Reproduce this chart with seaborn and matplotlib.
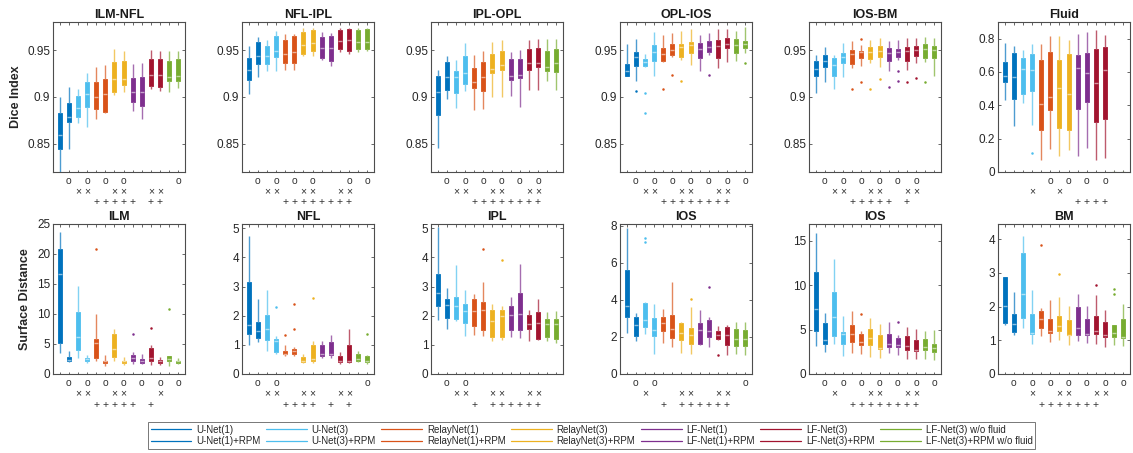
import numpy as np
import pandas as pd
import matplotlib
matplotlib.use("Agg")
import matplotlib.pyplot as plt
import seaborn as sns
from matplotlib.lines import Line2D
from matplotlib.colors import to_rgb

# ---------------- data ----------------
methods = ["U-Net(1)", "U-Net(1)+RPM", "U-Net(3)", "U-Net(3)+RPM",
           "RelayNet(1)", "RelayNet(1)+RPM", "RelayNet(3)", "RelayNet(3)+RPM",
           "LF-Net(1)", "LF-Net(1)+RPM", "LF-Net(3)", "LF-Net(3)+RPM",
           "LF-Net(3) w/o fluid", "LF-Net(3)+RPM w/o fluid"]
base_colors = ["#0072BD", "#0072BD", "#4DBEEE", "#4DBEEE", "#D95319", "#D95319",
               "#EDB120", "#EDB120", "#7E2F8E", "#7E2F8E", "#A2142F", "#A2142F",
               "#77AC30", "#77AC30"]

# each row: [whisker low, q1, median, q3, whisker high]
ilm_nfl = [[0.815, 0.845, 0.859, 0.883, 0.900], [0.845, 0.8735, 0.879, 0.8935, 0.911],
           [0.872, 0.879, 0.8886, 0.901, 0.909], [0.8675, 0.889, 0.9033, 0.9163, 0.926],
           [0.877, 0.8875, 0.900, 0.9163, 0.9325], [0.883, 0.884, 0.903, 0.9188, 0.934],
           [0.902, 0.9058, 0.919, 0.9374, 0.9507], [0.905, 0.9128, 0.919, 0.938, 0.949],
           [0.8847, 0.895, 0.905, 0.920, 0.935], [0.877, 0.890, 0.905, 0.921, 0.936],
           [0.9086, 0.9114, 0.923, 0.941, 0.950], [0.9068, 0.9107, 0.923, 0.9405, 0.9493],
           [0.9054, 0.917, 0.921, 0.9384, 0.949], [0.9096, 0.917, 0.922, 0.9402, 0.9493]]
nfl_ipl = [[0.9037, 0.9184, 0.929, 0.9412, 0.9542], [0.9212, 0.935, 0.9437, 0.9591, 0.964],
           [0.9282, 0.935, 0.9437, 0.9542, 0.9612], [0.9279, 0.943, 0.9493, 0.9647, 0.970],
           [0.929, 0.9367, 0.9458, 0.9605, 0.9668], [0.9286, 0.9367, 0.9482, 0.9654, 0.9675],
           [0.9437, 0.9454, 0.9553, 0.9696, 0.9739], [0.9437, 0.949, 0.9577, 0.9711, 0.9732],
           [0.940, 0.9412, 0.9518, 0.9637, 0.969], [0.933, 0.9384, 0.9518, 0.9647, 0.9682],
           [0.9482, 0.9507, 0.9598, 0.9718, 0.9739], [0.9458, 0.949, 0.9605, 0.9725, 0.9739],
           [0.9482, 0.9507, 0.9591, 0.9718, 0.9732], [0.9493, 0.9507, 0.9591, 0.9728, 0.9739]]
ipl_opl = [[0.8461, 0.8805, 0.9058, 0.922, 0.929], [0.8974, 0.9075, 0.9212, 0.9374, 0.944],
           [0.8879, 0.9044, 0.9212, 0.9279, 0.9395], [0.9061, 0.9139, 0.9254, 0.9437, 0.9577],
           [0.8858, 0.9093, 0.9163, 0.9307, 0.9447], [0.8875, 0.9061, 0.9212, 0.9377, 0.949],
           [0.8998, 0.9261, 0.9296, 0.9458, 0.9588], [0.8998, 0.929, 0.9339, 0.949, 0.9605],
           [0.9009, 0.9177, 0.9226, 0.9402, 0.9482], [0.8893, 0.9198, 0.9237, 0.9409, 0.950],
           [0.9079, 0.929, 0.936, 0.9507, 0.9612], [0.9079, 0.9325, 0.9367, 0.9518, 0.9623],
           [0.9174, 0.9272, 0.9325, 0.9493, 0.9623], [0.9072, 0.9265, 0.936, 0.9514, 0.9623]]
opl_ios = [[0.9226, 0.9226, 0.9282, 0.9353, 0.957], [0.9167, 0.9335, 0.943, 0.9482, 0.9616],
           [0.9325, 0.9335, 0.9377, 0.9402, 0.9454], [0.9219, 0.9384, 0.9482, 0.9553, 0.9693],
           [0.937, 0.9388, 0.9454, 0.9518, 0.9665], [0.9423, 0.9447, 0.950, 0.957, 0.9682],
           [0.9395, 0.943, 0.9535, 0.957, 0.9704], [0.9342, 0.9465, 0.9553, 0.9588, 0.9728],
           [0.9272, 0.9419, 0.951, 0.9581, 0.9665], [0.9447, 0.9482, 0.9535, 0.9598, 0.9682],
           [0.9307, 0.9419, 0.9546, 0.9605, 0.9728], [0.9377, 0.9525, 0.957, 0.963, 0.9728],
           [0.9384, 0.9472, 0.9553, 0.9616, 0.970], [0.9472, 0.9518, 0.957, 0.9598, 0.9746]]
ios_bm = [[0.9044, 0.9219, 0.9296, 0.9388, 0.9447], [0.9156, 0.9325, 0.9388, 0.9447, 0.9528],
          [0.9086, 0.9219, 0.9342, 0.9412, 0.9447], [0.9209, 0.936, 0.943, 0.9472, 0.9577],
          [0.9307, 0.935, 0.9454, 0.950, 0.9598], [0.9332, 0.9419, 0.9482, 0.9493, 0.9553],
          [0.9367, 0.9402, 0.9482, 0.9535, 0.9605], [0.9318, 0.9423, 0.9493, 0.9542, 0.9633],
          [0.9272, 0.9384, 0.9472, 0.9525, 0.9598], [0.9395, 0.9423, 0.9482, 0.9507, 0.9605],
          [0.9289, 0.9388, 0.9493, 0.9535, 0.9633], [0.9367, 0.9437, 0.950, 0.9542, 0.9633],
          [0.9377, 0.9412, 0.9507, 0.9563, 0.964], [0.9219, 0.9412, 0.950, 0.9542, 0.9633]]
fluid = [[0.432, 0.539, 0.575, 0.659, 0.776], [0.273, 0.436, 0.567, 0.716, 0.754],
         [0.412, 0.466, 0.615, 0.685, 0.730], [0.283, 0.486, 0.611, 0.706, 0.770],
         [0.074, 0.249, 0.408, 0.669, 0.766], [0.137, 0.372, 0.452, 0.720, 0.814],
         [0.094, 0.263, 0.501, 0.671, 0.814], [0.133, 0.249, 0.466, 0.706, 0.790],
         [0.098, 0.380, 0.621, 0.700, 0.830], [0.147, 0.422, 0.595, 0.716, 0.840],
         [0.070, 0.302, 0.531, 0.736, 0.854], [0.086, 0.318, 0.611, 0.750, 0.820],
         [0.0, 0.0, 0.0, 0.0, 0.0], [0.0, 0.0, 0.0, 0.0, 0.0]]
ilm = [[3.5, 5.1, 16.6, 20.9, 23.6], [2.0, 2.1, 2.4, 2.8, 3.8],
       [2.75, 4.0, 6.1, 10.4, 14.6], [1.8, 2.25, 2.5, 2.6, 3.2],
       [2.1, 2.6, 5.1, 5.9, 10.0], [1.4, 1.8, 2.1, 2.2, 3.1],
       [2.1, 2.8, 4.1, 6.6, 7.5], [1.5, 1.8, 2.1, 2.2, 2.8],
       [1.65, 2.1, 2.6, 3.2, 3.7], [1.65, 1.9, 2.2, 2.5, 3.3],
       [1.5, 2.1, 2.75, 4.3, 4.9], [1.5, 1.9, 2.2, 2.35, 2.8],
       [1.4, 2.1, 2.5, 3.0, 3.05], [1.65, 1.9, 2.1, 2.25, 2.75]]
nfl = [[0.99, 1.36, 1.67, 3.17, 4.75], [1.10, 1.24, 1.49, 1.79, 2.56],
       [0.78, 1.18, 1.55, 2.01, 2.87], [0.70, 0.76, 1.13, 1.21, 1.32],
       [0.63, 0.67, 0.69, 0.80, 0.99], [0.61, 0.67, 0.80, 0.87, 0.92],
       [0.38, 0.41, 0.46, 0.57, 0.69], [0.38, 0.44, 0.52, 0.99, 1.13],
       [0.55, 0.61, 0.69, 1.01, 1.13], [0.55, 0.64, 0.69, 1.09, 1.33],
       [0.34, 0.41, 0.46, 0.63, 0.75], [0.38, 0.41, 0.46, 0.98, 1.56],
       [0.40, 0.44, 0.52, 0.67, 0.78], [0.34, 0.41, 0.46, 0.63, 0.64]]
ipl = [[1.87, 2.33, 2.79, 3.42, 5.05], [1.55, 1.93, 2.36, 2.58, 2.94],
       [1.81, 1.89, 2.33, 2.66, 3.74], [1.32, 1.74, 2.18, 2.42, 2.88],
       [1.35, 1.64, 2.18, 2.58, 2.75], [1.32, 1.50, 2.21, 2.47, 3.17],
       [1.12, 1.28, 1.83, 2.21, 2.42], [1.18, 1.28, 1.98, 2.21, 2.35],
       [1.26, 1.51, 2.02, 2.33, 2.64], [1.24, 1.50, 2.06, 2.79, 3.76],
       [1.15, 1.55, 1.72, 2.01, 2.19], [1.18, 1.20, 1.75, 2.13, 2.56],
       [1.12, 1.28, 1.70, 1.89, 2.13], [1.07, 1.20, 1.72, 1.90, 2.18]]
ios_a = [[2.22, 3.10, 3.65, 5.60, 7.87], [1.77, 2.06, 2.67, 3.07, 3.30],
         [2.17, 2.56, 2.92, 3.84, 3.90], [1.08, 2.04, 2.40, 3.03, 3.79],
         [1.68, 2.31, 2.76, 3.07, 3.52], [1.44, 1.95, 2.45, 3.18, 4.98],
         [1.14, 1.82, 2.22, 2.73, 2.82], [1.08, 1.62, 2.13, 2.49, 3.61],
         [1.55, 1.62, 2.40, 2.76, 3.43], [1.44, 1.99, 2.31, 2.94, 3.07],
         [1.86, 1.90, 2.13, 2.31, 2.58], [1.05, 1.55, 2.08, 2.54, 2.67],
         [1.08, 1.53, 1.90, 2.44, 2.82], [1.01, 1.50, 1.90, 2.38, 2.82]]
ios_b = [[3.11, 4.88, 7.31, 11.48, 15.86], [2.48, 3.41, 3.86, 5.74, 6.86],
         [3.38, 4.24, 6.41, 9.23, 12.98], [1.99, 3.38, 4.54, 4.73, 6.49],
         [2.36, 3.60, 4.50, 5.55, 7.13], [2.25, 3.23, 3.60, 4.50, 4.80],
         [1.88, 3.23, 4.05, 5.06, 6.30], [1.80, 2.85, 2.93, 4.35, 5.66],
         [2.36, 3.00, 3.41, 4.54, 5.85], [2.10, 3.04, 3.30, 4.05, 4.43],
         [1.69, 2.66, 3.19, 4.31, 5.25], [1.69, 2.63, 2.74, 3.86, 5.10],
         [1.69, 2.74, 3.04, 3.94, 4.88], [1.61, 2.48, 2.93, 3.41, 4.99]]
bm = [[1.45, 1.51, 2.03, 2.89, 2.89], [1.17, 1.25, 1.47, 1.77, 2.43],
      [1.37, 1.65, 2.36, 3.60, 4.10], [0.90, 1.19, 1.22, 1.77, 2.48],
      [1.12, 1.37, 1.62, 1.87, 1.96], [0.95, 1.22, 1.27, 1.62, 2.21],
      [1.02, 1.29, 1.42, 1.72, 2.28], [0.85, 1.15, 1.17, 1.59, 2.01],
      [0.97, 1.15, 1.37, 1.98, 2.38], [0.92, 1.17, 1.19, 1.64, 2.01],
      [0.90, 1.19, 1.27, 1.72, 2.33], [0.79, 1.09, 1.15, 1.54, 1.91],
      [0.85, 1.09, 1.22, 1.44, 1.44], [0.84, 1.07, 1.10, 1.62, 2.08]]

# outliers: (box position 1..14, value)
opl_ios_out = [(2, 0.9068), (3, 0.9044), (3, 0.8826), (5, 0.909), (6, 0.923), (7, 0.9167),
               (10, 0.9237), (14, 0.9367)]
ios_bm_out = [(5, 0.9082), (6, 0.9616), (6, 0.916), (7, 0.909), (8, 0.9191), (9, 0.9104),
              (10, 0.9272), (10, 0.9167), (11, 0.9156), (12, 0.9202), (13, 0.9156)]
fluid_out = [(4, 0.113)]
ilm_out = [(5, 20.8), (9, 6.75), (11, 7.7), (13, 10.9)]
nfl_out = [(4, 2.30), (5, 1.33), (6, 2.39), (6, 1.53), (8, 2.60), (14, 1.36)]
ipl_out = [(6, 4.28), (8, 3.93)]
ios_a_out = [(3, 7.33), (3, 7.15), (8, 4.03), (10, 4.71), (11, 1.05)]
ios_b_out = [(6, 6.75), (10, 5.81)]
bm_out = [(5, 3.83), (7, 2.98), (11, 2.63), (13, 2.51), (13, 2.36)]

# significance marks under the boxes (positions 1..14)
ilm_nfl_marks = {"o": [2, 4, 6, 8, 14], "x": [3, 4, 7, 8, 11, 12], "+": [5, 6, 7, 8, 9, 11, 12]}
nfl_ipl_marks = {"o": [2, 4, 6, 8, 12, 14], "x": [3, 4, 7, 8, 11, 12], "+": [5, 6, 7, 8, 9, 10, 11, 12]}
ipl_opl_marks = {"o": [2, 4, 6, 8, 10, 12], "x": [3, 4, 7, 8, 11, 12], "+": [5, 6, 7, 8, 9, 10, 11, 12]}
opl_ios_marks = {"o": [2, 4, 6, 8, 10, 12, 14], "x": [3, 4, 7, 8, 11, 12], "+": [5, 6, 7, 8, 9, 10, 11, 12]}
ios_bm_marks = {"o": [2, 4, 6, 8, 10, 12], "x": [3, 4, 7, 8, 11, 12], "+": [5, 6, 7, 8, 9, 11]}
fluid_marks = {"o": [6, 8, 10, 12], "x": [4, 7], "+": [9, 10, 11, 12]}
ilm_marks = {"o": [2, 4, 6, 8, 10, 12, 14], "x": [3, 4, 7, 8, 12], "+": [5, 6, 7, 8, 9, 11]}
nfl_marks = {"o": [2, 4, 14], "x": [3, 4, 7, 8, 11, 12], "+": [5, 6, 7, 8, 10, 12]}
ipl_marks = {"o": [2, 4], "x": [3, 4, 7, 8, 11, 12], "+": [5, 7, 8, 9, 10, 11, 12]}
ios_a_marks = {"o": [2, 4, 14], "x": [3, 7, 8, 11, 12], "+": [5, 7, 8, 9, 10, 11, 12]}
ios_b_marks = {"o": [2, 4, 6, 8, 10, 12, 14], "x": [3, 7, 8, 11, 12], "+": [5, 6, 7, 8, 9, 10, 11, 12]}
bm_marks = {"o": [2, 4, 6, 8, 10, 12, 14], "x": [4, 7, 8, 11, 12], "+": [5, 6, 7, 8, 9, 10, 11]}

titles = ["ILM-NFL", "NFL-IPL", "IPL-OPL", "OPL-IOS", "IOS-BM", "Fluid",
          "ILM", "NFL", "IPL", "IOS", "IOS", "BM"]
dice_ticks = [0.85, 0.9, 0.95]
dice_ticklabels = ["0.85", "0.9", "0.95"]

panels = [
    (ilm_nfl, [], ilm_nfl_marks, (0.82, 0.98), dice_ticks, dice_ticklabels),
    (nfl_ipl, [], nfl_ipl_marks, (0.82, 0.98), dice_ticks, dice_ticklabels),
    (ipl_opl, [], ipl_opl_marks, (0.82, 0.98), dice_ticks, dice_ticklabels),
    (opl_ios, opl_ios_out, opl_ios_marks, (0.82, 0.98), dice_ticks, dice_ticklabels),
    (ios_bm, ios_bm_out, ios_bm_marks, (0.82, 0.98), dice_ticks, dice_ticklabels),
    (fluid, fluid_out, fluid_marks, (0, 0.9), [0, 0.2, 0.4, 0.6, 0.8], ["0", "0.2", "0.4", "0.6", "0.8"]),
    (ilm, ilm_out, ilm_marks, (0, 25), [0, 5, 10, 15, 20, 25], None),
    (nfl, nfl_out, nfl_marks, (0, 5.15), [0, 1, 2, 3, 4, 5], None),
    (ipl, ipl_out, ipl_marks, (0, 5.15), [0, 1, 2, 3, 4, 5], None),
    (ios_a, ios_a_out, ios_a_marks, (0, 8.1), [0, 2, 4, 6, 8], None),
    (ios_b, ios_b_out, ios_b_marks, (0, 16.9), [0, 5, 10, 15], None),
    (bm, bm_out, bm_marks, (0, 4.45), [0, 1, 2, 3, 4], None),
]

# ---------------- style ----------------
sns.set_theme(style="ticks")
plt.rcParams["font.family"] = ["Liberation Sans", "DejaVu Sans"]
FRAME = "#4d4d4d"


def lighten(c, f):
    r, g, b = to_rgb(c)
    return (r + (1 - r) * f, g + (1 - g) * f, b + (1 - b) * f)


fig = plt.figure(figsize=(11.33, 4.53), dpi=100)
W, H = 1133.0, 453.0
lefts = [53, 242, 431, 620, 809, 998]
order = [str(i) for i in range(1, 15)]
sym = {"o": "o", "x": "\u00d7", "+": "+"}

for k, (stats, outs, marks, ylim, yt, ytl) in enumerate(panels):
    row = k // 6
    col = k % 6
    top_px = 22 if row == 0 else 224
    ax = fig.add_axes([lefts[col] / W, 1 - (top_px + 150) / H, 132 / W, 150 / H])
    for i, vals in enumerate(stats):
        c = base_colors[i]
        df = pd.DataFrame({"pos": [order[i]] * 5, "value": sorted(vals)})
        sns.boxplot(data=df, x="pos", y="value", order=order, color=c, linecolor=c,
                    whis=(0, 100), width=0.45, showcaps=False, fliersize=0,
                    linewidth=0.6, saturation=1,
                    medianprops=dict(color=lighten(c, 0.55), linewidth=1.0),
                    whiskerprops=dict(color=lighten(c, 0.3), linewidth=1.0),
                    ax=ax)
    for (p, v) in outs:
        sns.stripplot(x=[order[p - 1]], y=[v], order=order, color=base_colors[p - 1],
                      size=1.8, jitter=False, ax=ax, linewidth=0)
    ax.set_xlim(-0.75, 13.75)
    ax.set_ylim(*ylim)
    ax.set_yticks(yt)
    if ytl is not None:
        ax.set_yticklabels(ytl)
    ax.set_xticks(range(14))
    ax.set_xticklabels([])
    ax.set_xlabel("")
    ax.set_ylabel("")
    ax.tick_params(axis="both", direction="in", top=True, right=True, length=2.2,
                   width=0.6, color=FRAME, labelsize=8.5, labelcolor="#262626", pad=2)
    ax.tick_params(axis="x", length=1.8)
    for s in ax.spines.values():
        s.set_visible(True)
        s.set_color(FRAME)
        s.set_linewidth(0.8)
    ax.set_title(titles[k], fontsize=9, fontweight="bold", pad=3, color="#1a1a1a")
    offs = [9, 19.5, 30] if row == 0 else [9, 19.5, 31]
    for r, key in enumerate(["o", "x", "+"]):
        for p in marks[key]:
            ax.annotate(sym[key], xy=(p - 1, 0), xycoords=("data", "axes fraction"),
                        xytext=(0, -offs[r] * 0.72), textcoords="offset points",
                        ha="center", va="center", fontsize=7.5, color="#333333")
    if k == 0:
        ax.set_ylabel("Dice Index", fontsize=9, fontweight="bold", labelpad=4)
    if k == 6:
        ax.set_ylabel("Surface Distance", fontsize=9, fontweight="bold", labelpad=4)

handles = [Line2D([0], [0], color=base_colors[i], lw=0.9) for i in range(14)]
leg = fig.legend(handles, methods, ncol=7, loc="center",
                 bbox_to_anchor=(591.5 / W, 1 - 435.5 / H), fontsize=7,
                 handlelength=4.2, columnspacing=0.55, handletextpad=0.5,
                 labelspacing=0.2, borderpad=0.3, frameon=True, fancybox=False)
leg.get_frame().set_edgecolor("#555555")
leg.get_frame().set_linewidth(0.7)

fig.savefig("out.png", dpi=100)
